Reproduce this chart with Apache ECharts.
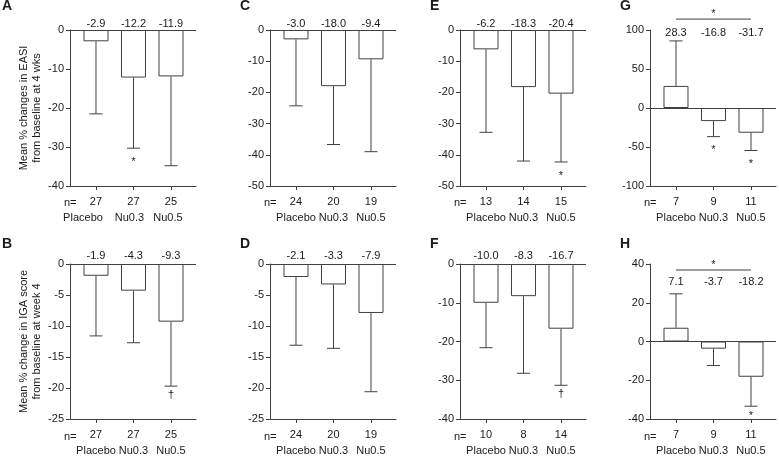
<!DOCTYPE html>
<html>
<head>
<meta charset="utf-8">
<script src="https://cdn.jsdelivr.net/npm/echarts@6/dist/echarts.min.js"></script>
<style>
  html, body { margin: 0; padding: 0; background: #fff; }
  #chart { width: 779px; height: 456px; }
</style>
</head>
<body>
<div id="chart"></div>
<script>
// group names under every panel
const groups = ['Placebo', 'Nu0.3', 'Nu0.5'];

// EASI, all patients
const meanA = [-2.9, -12.2, -11.9];
const errA = [-21.5, -30.3, -34.8];
const nA = [27, 27, 25];
const markA = ['', '*', ''];

// IGA, all patients
const meanB = [-1.9, -4.3, -9.3];
const errB = [-11.6, -12.7, -19.7];
const nB = [27, 27, 25];
const markB = ['', '', '\u2020'];

const meanC = [-3.0, -18.0, -9.4];
const errC = [-24.3, -36.7, -39.0];
const nC = [24, 20, 19];
const markC = ['', '', ''];

const meanD = [-2.1, -3.3, -7.9];
const errD = [-13.1, -13.6, -20.6];
const nD = [24, 20, 19];
const markD = ['', '', ''];

const meanE = [-6.2, -18.3, -20.4];
const errE = [-32.8, -42.0, -42.3];
const nE = [13, 14, 15];
const markE = ['', '', '*'];

const meanF = [-10.0, -8.3, -16.7];
const errF = [-21.6, -28.2, -31.3];
const nF = [10, 8, 14];
const markF = ['', '', '\u2020'];

const meanG = [28.3, -16.8, -31.7];
const errG = [86.0, -36.7, -54.5];
const nG = [7, 9, 11];
const markG = ['', '*', '*'];
const sigG = [0, 2, 114];   // placebo vs Nu0.5 bracket

const meanH = [7.1, -3.7, -18.2];
const errH = [24.6, -12.4, -33.4];
const nH = [7, 9, 11];
const markH = ['', '', '*'];
const sigH = [0, 2, 36.9];

const FONT = '"Liberation Sans", Arial, sans-serif';
const LINE = '#404040';
const TXT = '#1a1a1a';

const panels = [
  {letter: 'A', lx: 2, ly: -1, left: 70, top: 30, min: -40, max: 0, step: 10, mean: meanA, err: errA, n: nA, mark: markA, valOff: -1,
   nameDx: [-13, -4, -3], yName: 'Mean % changes in EASI\nfrom baseline at 4 wks'},
  {letter: 'B', lx: 2, ly: 237, left: 70, top: 264, min: -25, max: 0, step: 5, mean: meanB, err: errB, n: nB, mark: markB, valOff: 0.5,
   yName: 'Mean % change in IGA score\nfrom baseline at week 4'},
  {letter: 'C', lx: 240, ly: -1, left: 270, top: 30, min: -50, max: 0, step: 10, mean: meanC, err: errC, n: nC, mark: markC, valOff: -1},
  {letter: 'D', lx: 240, ly: 237, left: 270, top: 264, min: -25, max: 0, step: 5, mean: meanD, err: errD, n: nD, mark: markD, valOff: 0.5},
  {letter: 'E', lx: 430, ly: -1, left: 460, top: 30, min: -50, max: 0, step: 10, mean: meanE, err: errE, n: nE, mark: markE, valOff: -1},
  {letter: 'F', lx: 430, ly: 237, left: 460, top: 264, min: -40, max: 0, step: 10, mean: meanF, err: errF, n: nF, mark: markF, valOff: 0.5},
  {letter: 'G', lx: 620, ly: -1, left: 650, top: 30, min: -100, max: 100, step: 50, mean: meanG, err: errG, n: nG, mark: markG, valOff: -10, sig: sigG},
  {letter: 'H', lx: 620, ly: 237, left: 650, top: 264, min: -40, max: 40, step: 20, mean: meanH, err: errH, n: nH, mark: markH, valOff: -25.5, sig: sigH,
   markDy: 4}
];

// x positions: bars sit at 0,1,2
const X_MIN = -0.693, X_MAX = 2.667;
const GRID_W = 126, GRID_H = 156;
const PX_PER_X = GRID_W / (X_MAX - X_MIN);

function errorBar(p) {
  return function (params, api) {
    const x = api.value(0);
    const top = api.coord([x, api.value(1)]);
    const end = api.coord([x, api.value(2)]);
    const cap = 6.5;
    const kids = [
      {type: 'line', shape: {x1: top[0], y1: top[1], x2: end[0], y2: end[1]}, style: {stroke: LINE, lineWidth: 1}},
      {type: 'line', shape: {x1: end[0] - cap, y1: end[1], x2: end[0] + cap, y2: end[1]}, style: {stroke: LINE, lineWidth: 1}}
    ];
    const m = p.mark[params.dataIndex];
    if (m) {
      const dy = m === '*' ? (p.markDy || 8) : 3;
      kids.push({type: 'text', x: end[0], y: end[1] + dy,
        style: {text: m, align: 'center', verticalAlign: 'top', fontSize: 11, fontFamily: FONT, fill: TXT}});
    }
    return {type: 'group', children: kids};
  };
}

function sigBracket(params, api) {
  const a = api.coord([api.value(0), api.value(2)]);
  const b = api.coord([api.value(1), api.value(2)]);
  return {type: 'group', children: [
    {type: 'line', shape: {x1: a[0], y1: a[1], x2: b[0], y2: b[1]}, style: {stroke: LINE, lineWidth: 1}},
    {type: 'text', x: (a[0] + b[0]) / 2, y: a[1] - 10.5,
     style: {text: '*', align: 'center', verticalAlign: 'top', fontSize: 11, fontFamily: FONT, fill: TXT}}
  ]};
}

const labelText = {fontSize: 11, fontFamily: FONT, color: TXT};
const grid = [], xAxis = [], yAxis = [], series = [], title = [], graphic = [];

panels.forEach(function (p, i) {
  title.push({text: p.letter, left: p.lx, top: p.ly, padding: 0,
    textStyle: {fontSize: 14, fontWeight: 'bold', fontFamily: FONT, color: TXT}});
  grid.push({left: p.left, top: p.top, width: GRID_W, height: GRID_H});

  // "n=" row header
  graphic.push({type: 'text', left: p.left - 6, top: p.top + GRID_H + 11,
    style: {text: 'n=', fontSize: 11, fontFamily: FONT, fill: TXT}});

  // bottom axis: n per group
  xAxis.push({
    type: 'value', gridIndex: i, min: X_MIN, max: X_MAX, position: 'bottom',
    splitLine: {show: false},
    axisLine: {onZero: false, lineStyle: {color: LINE, width: 1}},
    axisTick: {customValues: [0, 1, 2], length: 4, lineStyle: {color: LINE}},
    axisLabel: Object.assign({customValues: [0, 1, 2], margin: 10,
      formatter: function (v) { return String(p.n[Math.round(v)]); }}, labelText)
  });
  // top axis: mean values
  xAxis.push({
    type: 'value', gridIndex: i, min: X_MIN, max: X_MAX, position: 'top', offset: p.valOff,
    splitLine: {show: false}, axisLine: {show: false, onZero: false}, axisTick: {show: false},
    axisLabel: Object.assign({customValues: [0, 1, 2], margin: 1, lineHeight: 13,
      formatter: function (v) { return p.mean[Math.round(v)].toFixed(1); }}, labelText)
  });
  // second bottom row: group names
  const dx = p.nameDx || [0, 0, 0];
  xAxis.push({
    type: 'value', gridIndex: i, min: X_MIN, max: X_MAX, position: 'bottom',
    splitLine: {show: false}, axisLine: {show: false, onZero: false}, axisTick: {show: false},
    axisLabel: Object.assign({customValues: dx.map(function (d, k) { return k + d / PX_PER_X; }), margin: 26,
      formatter: function (v) { return groups[Math.round(v)]; }}, labelText)
  });

  yAxis.push({
    type: 'value', gridIndex: i, min: p.min, max: p.max, interval: p.step,
    splitLine: {show: false},
    axisLine: {show: true, onZero: false, lineStyle: {color: LINE, width: 1}},
    axisTick: {show: true, length: 4, lineStyle: {color: LINE}},
    axisLabel: Object.assign({margin: 6}, labelText),
    name: p.yName || '', nameLocation: 'middle', nameGap: 27,
    nameTextStyle: {fontSize: 11, lineHeight: 13, fontFamily: FONT, color: TXT}
  });

  series.push({
    type: 'bar', xAxisIndex: 3 * i, yAxisIndex: i, barWidth: 25,
    data: p.mean.map(function (m, k) { return [k, m]; }),
    itemStyle: {color: '#fff', borderColor: LINE, borderWidth: 1},
    markLine: {
      silent: true, symbol: 'none', label: {show: false},
      lineStyle: {color: LINE, type: 'solid', width: 1},
      emphasis: {disabled: true},
      data: [{yAxis: 0}]
    }
  });
  series.push({
    type: 'custom', xAxisIndex: 3 * i, yAxisIndex: i, clip: false,
    renderItem: errorBar(p),
    encode: {x: 0, y: [1, 2]},
    data: p.mean.map(function (m, k) { return [k, m, p.err[k]]; })
  });
  if (p.sig) {
    series.push({
      type: 'custom', xAxisIndex: 3 * i, yAxisIndex: i, clip: false,
      renderItem: sigBracket,
      encode: {x: [0, 1], y: 2},
      data: [p.sig]
    });
  }
});

const chart = echarts.init(document.getElementById('chart'));
chart.setOption({
  animation: false,
  backgroundColor: '#fff',
  title: title,
  graphic: graphic,
  grid: grid,
  xAxis: xAxis,
  yAxis: yAxis,
  series: series
});
</script>
</body>
</html>
